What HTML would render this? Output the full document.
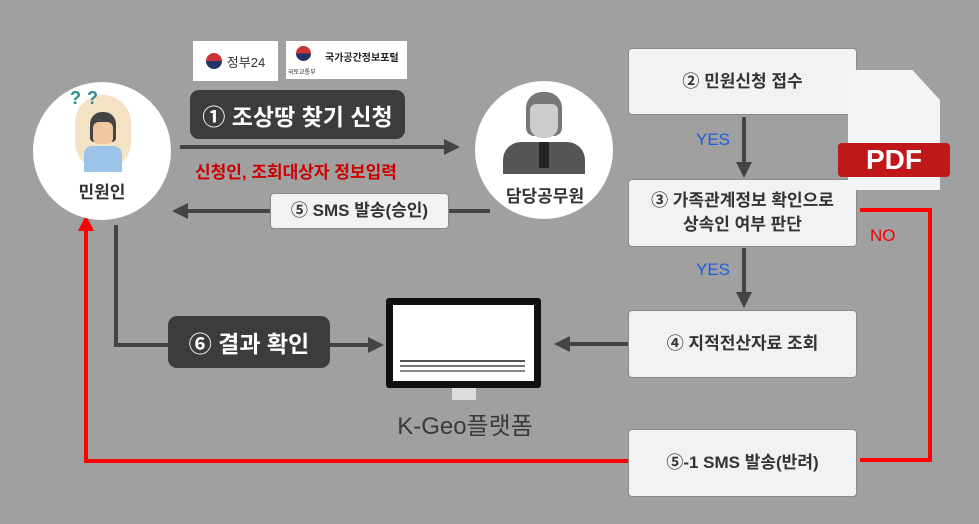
<!DOCTYPE html>
<html><head><meta charset="utf-8"><style>
body{margin:0;width:979px;height:524px;background:#a0a0a0;position:relative;overflow:hidden;font-family:"Liberation Sans","Noto Sans CJK KR",sans-serif}
.a{position:absolute}
.box{position:absolute;background:#f2f2f2;border:1px solid #8a8a8a;border-radius:4px;display:flex;align-items:center;justify-content:center;text-align:center;font-weight:bold;color:#333;font-size:17px;line-height:24px;box-sizing:border-box}
.pill{position:absolute;background:#3c3c3c;border-radius:9px;color:#fff;display:flex;align-items:center;justify-content:center;font-weight:bold;font-size:23px}
.circ{position:absolute;background:#fff;border-radius:50%}
</style></head><body>
<svg class="a" style="left:0;top:0" width="979" height="524">
<defs>
<marker id="ad" markerWidth="4" markerHeight="4" refX="2" refY="2" orient="auto"><path d="M0,0L4,2L0,4z" fill="#444"/></marker>
<marker id="ar" markerWidth="4" markerHeight="4" refX="2" refY="2" orient="auto"><path d="M0,0L4,2L0,4z" fill="#f00"/></marker>
</defs>
<line x1="180" y1="147" x2="452" y2="147" stroke="#444" stroke-width="4" marker-end="url(#ad)"/>
<line x1="490" y1="211" x2="180" y2="211" stroke="#444" stroke-width="4" marker-end="url(#ad)"/>
<polyline points="116,225 116,345 376,345" fill="none" stroke="#444" stroke-width="4" marker-end="url(#ad)"/>
<line x1="628" y1="344" x2="562" y2="344" stroke="#444" stroke-width="4" marker-end="url(#ad)"/>
<line x1="744" y1="117" x2="744" y2="170" stroke="#444" stroke-width="4" marker-end="url(#ad)"/>
<line x1="744" y1="248" x2="744" y2="300" stroke="#444" stroke-width="4" marker-end="url(#ad)"/>
<polyline points="860,210 930,210 930,460 860,460" fill="none" stroke="#f00" stroke-width="4"/>
<polyline points="628,461 86,461 86,223" fill="none" stroke="#f00" stroke-width="4" marker-end="url(#ar)"/>
</svg>
<div class="a" style="left:193px;top:41px;width:85px;height:40px;background:#fff;font-size:13px;color:#333;display:flex;align-items:center;justify-content:center"><span style="display:inline-block;width:16px;height:16px;border-radius:50%;background:linear-gradient(#c33 50%,#236 50%);margin-right:5px"></span>정부24</div>
<div class="a" style="left:286px;top:41px;width:121px;height:38px;background:#fff;font-size:10px;font-weight:bold;color:#222"><span style="position:absolute;left:10px;top:5px;width:15px;height:15px;border-radius:50%;background:linear-gradient(#c33 50%,#236 50%)"></span><span style="position:absolute;left:39px;top:8px">국가공간정보포털</span><span style="position:absolute;left:2px;top:26px;font-size:6px;font-weight:normal">국토교통부</span></div>
<div class="pill" style="left:190px;top:90px;width:215px;height:49px">① 조상땅 찾기 신청</div>
<div class="a" style="left:195px;top:158px;color:#c00;font-weight:bold;font-size:17px">신청인, 조회대상자 정보입력</div>
<div class="circ" style="left:33px;top:82px;width:138px;height:138px"></div>
<div class="a" style="left:75px;top:95px;width:56px;height:75px;background:#f3d9b5;border-radius:28px;opacity:.8"></div>
<div class="a" style="left:90px;top:112px;width:26px;height:30px;background:#444;border-radius:12px 12px 4px 4px"></div>
<div class="a" style="left:93px;top:122px;width:20px;height:22px;background:#f1c7a0;border-radius:6px"></div>
<div class="a" style="left:84px;top:146px;width:38px;height:26px;background:#9cc3e8;border-radius:8px 8px 0 0"></div>
<div class="a" style="left:70px;top:88px;color:#2a8a8f;font-weight:bold;font-size:18px;letter-spacing:6px">??</div>
<div class="a" style="left:72px;top:178px;width:60px;text-align:center;font-size:17px;font-weight:bold;color:#333">민원인</div>
<div class="circ" style="left:475px;top:81px;width:138px;height:138px"></div>
<div class="a" style="left:526px;top:92px;width:36px;height:44px;background:#777;border-radius:16px 16px 8px 8px"></div>
<div class="a" style="left:530px;top:104px;width:28px;height:34px;background:#ccc;border-radius:6px 6px 12px 12px"></div>
<div class="a" style="left:503px;top:142px;width:82px;height:32px;background:#555;border-radius:18px 18px 0 0"></div>
<div class="a" style="left:539px;top:142px;width:10px;height:26px;background:#222"></div>
<div class="a" style="left:490px;top:182px;width:110px;text-align:center;font-size:17px;font-weight:bold;color:#333">담당공무원</div>
<div class="box" style="left:270px;top:193px;width:179px;height:36px;font-size:17px">⑤ SMS 발송(승인)</div>
<div class="pill" style="left:168px;top:316px;width:162px;height:52px">⑥ 결과 확인</div>
<div class="a" style="left:386px;top:298px;width:155px;height:90px;background:#111;border-radius:3px"></div>
<div class="a" style="left:393px;top:305px;width:141px;height:76px;background:#fff"></div>
<div class="a" style="left:400px;top:360px;width:125px;height:2px;background:#555;box-shadow:0 5px #777,0 10px #888"></div>
<div class="a" style="left:452px;top:388px;width:24px;height:12px;background:#ddd"></div>
<div class="a" style="left:385px;top:406px;width:160px;text-align:center;font-size:24px;color:#3a3a3a">K-Geo플랫폼</div>
<div class="box" style="left:628px;top:48px;width:229px;height:67px">② 민원신청 접수</div>
<div class="box" style="left:628px;top:179px;width:229px;height:68px">③ 가족관계정보 확인으로<br>상속인 여부 판단</div>
<div class="box" style="left:628px;top:310px;width:229px;height:68px">④ 지적전산자료 조회</div>
<div class="box" style="left:628px;top:429px;width:229px;height:68px">⑤-1 SMS 발송(반려)</div>
<div class="a" style="left:696px;top:130px;color:#1a5fe0;font-size:17px">YES</div>
<div class="a" style="left:696px;top:260px;color:#1a5fe0;font-size:17px">YES</div>
<div class="a" style="left:870px;top:226px;color:#e00;font-size:17px">NO</div>
<div class="a" style="left:848px;top:70px;width:92px;height:120px;background:#f4f4f4;clip-path:polygon(0 0,70% 0,100% 25%,100% 100%,0 100%)"></div>
<div class="a" style="left:838px;top:143px;width:112px;height:34px;background:#c01818;border-radius:4px;color:#fff;font-weight:bold;font-size:28px;text-align:center;line-height:34px">PDF</div>
</body></html>
